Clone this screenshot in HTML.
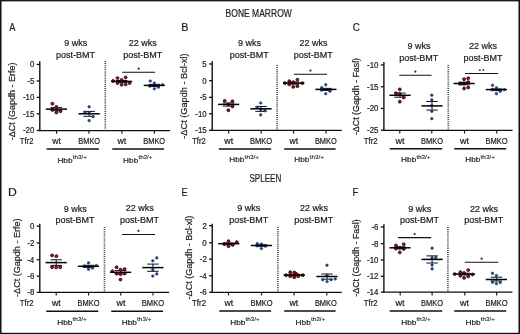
<!DOCTYPE html>
<html><head><meta charset="utf-8"><style>
html,body{margin:0;padding:0;background:#fff;}
svg{display:block;}
text{font-family:"Liberation Sans", sans-serif;stroke:#1c1c1c;stroke-width:0.2px;}
svg{will-change:transform;}
</style></head><body>
<svg width="520" height="334" viewBox="0 0 520 334">
<rect width="520" height="334" fill="#fff"/>
<text x="9.28" y="30.70" font-size="11.5" textLength="6.14" lengthAdjust="spacingAndGlyphs" fill="#1c1c1c" >A</text>
<line x1="39.80" y1="61.30" x2="39.80" y2="130.90" stroke="#111" stroke-width="1.4" />
<line x1="36.70" y1="64.45" x2="39.80" y2="64.45" stroke="#111" stroke-width="1.3" />
<text x="29.92" y="67.30" font-size="8.4" textLength="4.39" lengthAdjust="spacingAndGlyphs" fill="#1c1c1c" >0</text>
<line x1="36.70" y1="80.95" x2="39.80" y2="80.95" stroke="#111" stroke-width="1.3" />
<text x="27.31" y="83.80" font-size="8.4" textLength="7.02" lengthAdjust="spacingAndGlyphs" fill="#1c1c1c" >-5</text>
<line x1="36.70" y1="97.35" x2="39.80" y2="97.35" stroke="#111" stroke-width="1.3" />
<text x="22.90" y="100.20" font-size="8.4" textLength="11.41" lengthAdjust="spacingAndGlyphs" fill="#1c1c1c" >-10</text>
<line x1="36.70" y1="113.85" x2="39.80" y2="113.85" stroke="#111" stroke-width="1.3" />
<text x="22.92" y="116.70" font-size="8.4" textLength="11.41" lengthAdjust="spacingAndGlyphs" fill="#1c1c1c" >-15</text>
<line x1="36.70" y1="130.45" x2="39.80" y2="130.45" stroke="#111" stroke-width="1.3" />
<text x="22.90" y="133.30" font-size="8.4" textLength="11.41" lengthAdjust="spacingAndGlyphs" fill="#1c1c1c" >-20</text>
<line x1="39.10" y1="130.50" x2="170.20" y2="130.50" stroke="#111" stroke-width="1.25" />
<line x1="56.60" y1="130.30" x2="56.60" y2="133.70" stroke="#111" stroke-width="1.1" />
<line x1="88.90" y1="130.30" x2="88.90" y2="133.70" stroke="#111" stroke-width="1.1" />
<line x1="121.90" y1="130.30" x2="121.90" y2="133.70" stroke="#111" stroke-width="1.1" />
<line x1="154.40" y1="130.30" x2="154.40" y2="133.70" stroke="#111" stroke-width="1.1" />
<line x1="105.30" y1="61.00" x2="105.30" y2="130.30" stroke="#444" stroke-width="1.7" stroke-dasharray="1 1.08"/>
<text x="64.15" y="46.30" font-size="9" textLength="23.01" lengthAdjust="spacingAndGlyphs" fill="#1c1c1c" >9 wks</text>
<text x="56.01" y="57.80" font-size="9" textLength="39.01" lengthAdjust="spacingAndGlyphs" fill="#1c1c1c" >post-BMT</text>
<text x="128.83" y="46.20" font-size="9" textLength="28.01" lengthAdjust="spacingAndGlyphs" fill="#1c1c1c" >22 wks</text>
<text x="123.21" y="57.70" font-size="9" textLength="39.01" lengthAdjust="spacingAndGlyphs" fill="#1c1c1c" >post-BMT</text>
<line x1="122.10" y1="72.30" x2="155.20" y2="72.30" stroke="#111" stroke-width="1.05" />
<circle cx="138.65" cy="68.70" r="1.1" fill="#2a2a2a"/>
<line x1="56.40" y1="107.60" x2="56.40" y2="110.60" stroke="#111" stroke-width="1.0" />
<line x1="50.70" y1="107.60" x2="62.10" y2="107.60" stroke="#111" stroke-width="1.0" />
<line x1="50.70" y1="110.60" x2="62.10" y2="110.60" stroke="#111" stroke-width="1.0" />
<circle cx="52.40" cy="103.70" r="1.45" fill="#c8001a" stroke="#111" stroke-width="0.85"/>
<circle cx="56.40" cy="106.90" r="1.45" fill="#c8001a" stroke="#111" stroke-width="0.85"/>
<circle cx="52.40" cy="110.00" r="1.45" fill="#c8001a" stroke="#111" stroke-width="0.85"/>
<circle cx="56.40" cy="112.50" r="1.45" fill="#c8001a" stroke="#111" stroke-width="0.85"/>
<circle cx="60.50" cy="111.20" r="1.45" fill="#c8001a" stroke="#111" stroke-width="0.85"/>
<line x1="45.80" y1="109.10" x2="67.00" y2="109.10" stroke="#000" stroke-width="1.5" />
<line x1="89.10" y1="111.40" x2="89.10" y2="116.30" stroke="#111" stroke-width="1.0" />
<line x1="83.40" y1="111.40" x2="94.80" y2="111.40" stroke="#111" stroke-width="1.0" />
<line x1="83.40" y1="116.30" x2="94.80" y2="116.30" stroke="#111" stroke-width="1.0" />
<circle cx="89.10" cy="106.80" r="1.35" fill="#1d4591" stroke="#1a2a55" stroke-width="0.4"/>
<circle cx="84.90" cy="112.30" r="1.35" fill="#1d4591" stroke="#1a2a55" stroke-width="0.4"/>
<circle cx="89.10" cy="112.90" r="1.35" fill="#1d4591" stroke="#1a2a55" stroke-width="0.4"/>
<circle cx="93.00" cy="116.70" r="1.35" fill="#1d4591" stroke="#1a2a55" stroke-width="0.4"/>
<circle cx="89.10" cy="120.60" r="1.35" fill="#1d4591" stroke="#1a2a55" stroke-width="0.4"/>
<line x1="78.50" y1="113.80" x2="99.70" y2="113.80" stroke="#000" stroke-width="1.5" />
<line x1="121.60" y1="80.50" x2="121.60" y2="82.40" stroke="#111" stroke-width="1.0" />
<line x1="115.90" y1="80.50" x2="127.30" y2="80.50" stroke="#111" stroke-width="1.0" />
<line x1="115.90" y1="82.40" x2="127.30" y2="82.40" stroke="#111" stroke-width="1.0" />
<circle cx="113.10" cy="81.00" r="1.45" fill="#c8001a" stroke="#111" stroke-width="0.85"/>
<circle cx="117.50" cy="78.10" r="1.45" fill="#c8001a" stroke="#111" stroke-width="0.85"/>
<circle cx="117.50" cy="83.10" r="1.45" fill="#c8001a" stroke="#111" stroke-width="0.85"/>
<circle cx="121.60" cy="80.00" r="1.45" fill="#c8001a" stroke="#111" stroke-width="0.85"/>
<circle cx="121.60" cy="84.75" r="1.45" fill="#c8001a" stroke="#111" stroke-width="0.85"/>
<circle cx="125.60" cy="77.50" r="1.45" fill="#c8001a" stroke="#111" stroke-width="0.85"/>
<circle cx="125.60" cy="84.40" r="1.45" fill="#c8001a" stroke="#111" stroke-width="0.85"/>
<circle cx="129.60" cy="83.10" r="1.45" fill="#c8001a" stroke="#111" stroke-width="0.85"/>
<line x1="111.00" y1="81.40" x2="132.20" y2="81.40" stroke="#000" stroke-width="1.5" />
<line x1="154.30" y1="84.40" x2="154.30" y2="86.50" stroke="#111" stroke-width="1.0" />
<line x1="148.60" y1="84.40" x2="160.00" y2="84.40" stroke="#111" stroke-width="1.0" />
<line x1="148.60" y1="86.50" x2="160.00" y2="86.50" stroke="#111" stroke-width="1.0" />
<circle cx="150.25" cy="81.00" r="1.35" fill="#1d4591" stroke="#1a2a55" stroke-width="0.4"/>
<circle cx="154.40" cy="83.10" r="1.35" fill="#1d4591" stroke="#1a2a55" stroke-width="0.4"/>
<circle cx="150.00" cy="86.25" r="1.35" fill="#1d4591" stroke="#1a2a55" stroke-width="0.4"/>
<circle cx="154.40" cy="88.75" r="1.35" fill="#1d4591" stroke="#1a2a55" stroke-width="0.4"/>
<circle cx="158.40" cy="87.25" r="1.35" fill="#1d4591" stroke="#1a2a55" stroke-width="0.4"/>
<circle cx="162.50" cy="84.75" r="1.35" fill="#1d4591" stroke="#1a2a55" stroke-width="0.4"/>
<line x1="143.70" y1="85.40" x2="164.90" y2="85.40" stroke="#000" stroke-width="1.5" />
<text x="19.83" y="144.10" font-size="8.6" textLength="13.55" lengthAdjust="spacingAndGlyphs" fill="#1c1c1c" >Tfr2</text>
<text x="52.21" y="144.10" font-size="8.6" textLength="8.55" lengthAdjust="spacingAndGlyphs" fill="#1c1c1c" >wt</text>
<text x="117.41" y="144.10" font-size="8.6" textLength="8.75" lengthAdjust="spacingAndGlyphs" fill="#1c1c1c" >wt</text>
<text x="78.29" y="144.10" font-size="8.6" textLength="21.86" lengthAdjust="spacingAndGlyphs" fill="#1c1c1c" >BMKO</text>
<text x="143.19" y="144.10" font-size="8.6" textLength="21.97" lengthAdjust="spacingAndGlyphs" fill="#1c1c1c" >BMKO</text>
<line x1="46.60" y1="149.00" x2="98.90" y2="149.00" stroke="#111" stroke-width="1.5" />
<line x1="112.30" y1="149.00" x2="163.90" y2="149.00" stroke="#111" stroke-width="1.5" />
<text x="57.42" y="162.50" font-size="8.0" textLength="15.12" lengthAdjust="spacingAndGlyphs" fill="#1c1c1c" >Hbb</text>
<text x="72.70" y="158.90" font-size="5.6" textLength="14.31" lengthAdjust="spacingAndGlyphs" fill="#1c1c1c" style="stroke-width:0.1px">th3/+</text>
<text x="123.12" y="162.50" font-size="8.0" textLength="15.12" lengthAdjust="spacingAndGlyphs" fill="#1c1c1c" >Hbb</text>
<text x="138.41" y="158.90" font-size="5.6" textLength="14.10" lengthAdjust="spacingAndGlyphs" fill="#1c1c1c" style="stroke-width:0.1px">th3/+</text>
<text transform="translate(14.80,140.30) rotate(-90)" x="0" y="0" font-size="9" textLength="77.75" lengthAdjust="spacingAndGlyphs" fill="#1c1c1c">-ΔCt (Gapdh - Erfe)</text>
<text x="181.32" y="30.70" font-size="11.5" textLength="7.14" lengthAdjust="spacingAndGlyphs" fill="#1c1c1c" >B</text>
<line x1="212.20" y1="61.20" x2="212.20" y2="130.80" stroke="#111" stroke-width="1.4" />
<line x1="209.10" y1="63.95" x2="212.20" y2="63.95" stroke="#111" stroke-width="1.3" />
<text x="202.34" y="66.80" font-size="8.4" textLength="4.39" lengthAdjust="spacingAndGlyphs" fill="#1c1c1c" >5</text>
<line x1="209.10" y1="80.65" x2="212.20" y2="80.65" stroke="#111" stroke-width="1.3" />
<text x="202.32" y="83.50" font-size="8.4" textLength="4.39" lengthAdjust="spacingAndGlyphs" fill="#1c1c1c" >0</text>
<line x1="209.10" y1="97.35" x2="212.20" y2="97.35" stroke="#111" stroke-width="1.3" />
<text x="199.71" y="100.20" font-size="8.4" textLength="7.02" lengthAdjust="spacingAndGlyphs" fill="#1c1c1c" >-5</text>
<line x1="209.10" y1="113.75" x2="212.20" y2="113.75" stroke="#111" stroke-width="1.3" />
<text x="195.30" y="116.60" font-size="8.4" textLength="11.41" lengthAdjust="spacingAndGlyphs" fill="#1c1c1c" >-10</text>
<line x1="209.10" y1="130.35" x2="212.20" y2="130.35" stroke="#111" stroke-width="1.3" />
<text x="195.32" y="133.20" font-size="8.4" textLength="11.41" lengthAdjust="spacingAndGlyphs" fill="#1c1c1c" >-15</text>
<line x1="211.50" y1="130.40" x2="341.80" y2="130.40" stroke="#111" stroke-width="1.25" />
<line x1="228.60" y1="130.20" x2="228.60" y2="133.60" stroke="#111" stroke-width="1.1" />
<line x1="261.20" y1="130.20" x2="261.20" y2="133.60" stroke="#111" stroke-width="1.1" />
<line x1="293.50" y1="130.20" x2="293.50" y2="133.60" stroke="#111" stroke-width="1.1" />
<line x1="326.00" y1="130.20" x2="326.00" y2="133.60" stroke="#111" stroke-width="1.1" />
<line x1="277.10" y1="65.00" x2="277.10" y2="130.20" stroke="#444" stroke-width="1.7" stroke-dasharray="1 1.08"/>
<text x="237.95" y="46.40" font-size="9" textLength="23.01" lengthAdjust="spacingAndGlyphs" fill="#1c1c1c" >9 wks</text>
<text x="229.81" y="58.00" font-size="9" textLength="39.01" lengthAdjust="spacingAndGlyphs" fill="#1c1c1c" >post-BMT</text>
<text x="299.43" y="46.40" font-size="9" textLength="28.01" lengthAdjust="spacingAndGlyphs" fill="#1c1c1c" >22 wks</text>
<text x="293.81" y="58.00" font-size="9" textLength="39.01" lengthAdjust="spacingAndGlyphs" fill="#1c1c1c" >post-BMT</text>
<line x1="293.90" y1="74.20" x2="327.00" y2="74.20" stroke="#111" stroke-width="1.05" />
<circle cx="310.45" cy="70.60" r="1.1" fill="#2a2a2a"/>
<line x1="228.60" y1="103.00" x2="228.60" y2="106.10" stroke="#111" stroke-width="1.0" />
<line x1="222.90" y1="103.00" x2="234.30" y2="103.00" stroke="#111" stroke-width="1.0" />
<line x1="222.90" y1="106.10" x2="234.30" y2="106.10" stroke="#111" stroke-width="1.0" />
<circle cx="224.70" cy="100.90" r="1.45" fill="#c8001a" stroke="#111" stroke-width="0.85"/>
<circle cx="232.40" cy="101.30" r="1.45" fill="#c8001a" stroke="#111" stroke-width="0.85"/>
<circle cx="228.40" cy="104.40" r="1.45" fill="#c8001a" stroke="#111" stroke-width="0.85"/>
<circle cx="232.40" cy="106.50" r="1.45" fill="#c8001a" stroke="#111" stroke-width="0.85"/>
<circle cx="228.40" cy="110.30" r="1.45" fill="#c8001a" stroke="#111" stroke-width="0.85"/>
<line x1="218.00" y1="104.40" x2="239.20" y2="104.40" stroke="#000" stroke-width="1.5" />
<line x1="261.00" y1="106.50" x2="261.00" y2="111.40" stroke="#111" stroke-width="1.0" />
<line x1="255.30" y1="106.50" x2="266.70" y2="106.50" stroke="#111" stroke-width="1.0" />
<line x1="255.30" y1="111.40" x2="266.70" y2="111.40" stroke="#111" stroke-width="1.0" />
<circle cx="260.70" cy="103.00" r="1.35" fill="#1d4591" stroke="#1a2a55" stroke-width="0.4"/>
<circle cx="257.20" cy="107.20" r="1.35" fill="#1d4591" stroke="#1a2a55" stroke-width="0.4"/>
<circle cx="260.70" cy="109.30" r="1.35" fill="#1d4591" stroke="#1a2a55" stroke-width="0.4"/>
<circle cx="264.90" cy="110.70" r="1.35" fill="#1d4591" stroke="#1a2a55" stroke-width="0.4"/>
<circle cx="260.70" cy="114.90" r="1.35" fill="#1d4591" stroke="#1a2a55" stroke-width="0.4"/>
<line x1="250.40" y1="108.80" x2="271.60" y2="108.80" stroke="#000" stroke-width="1.5" />
<line x1="293.60" y1="82.00" x2="293.60" y2="84.20" stroke="#111" stroke-width="1.0" />
<line x1="287.90" y1="82.00" x2="299.30" y2="82.00" stroke="#111" stroke-width="1.0" />
<line x1="287.90" y1="84.20" x2="299.30" y2="84.20" stroke="#111" stroke-width="1.0" />
<circle cx="284.90" cy="83.10" r="1.45" fill="#c8001a" stroke="#111" stroke-width="0.85"/>
<circle cx="289.25" cy="81.25" r="1.45" fill="#c8001a" stroke="#111" stroke-width="0.85"/>
<circle cx="289.25" cy="84.40" r="1.45" fill="#c8001a" stroke="#111" stroke-width="0.85"/>
<circle cx="293.25" cy="82.25" r="1.45" fill="#c8001a" stroke="#111" stroke-width="0.85"/>
<circle cx="293.25" cy="86.90" r="1.45" fill="#c8001a" stroke="#111" stroke-width="0.85"/>
<circle cx="297.40" cy="79.75" r="1.45" fill="#c8001a" stroke="#111" stroke-width="0.85"/>
<circle cx="297.40" cy="86.25" r="1.45" fill="#c8001a" stroke="#111" stroke-width="0.85"/>
<circle cx="302.40" cy="83.10" r="1.45" fill="#c8001a" stroke="#111" stroke-width="0.85"/>
<line x1="283.00" y1="83.10" x2="304.20" y2="83.10" stroke="#000" stroke-width="1.5" />
<line x1="325.90" y1="88.40" x2="325.90" y2="90.40" stroke="#111" stroke-width="1.0" />
<line x1="320.20" y1="88.40" x2="331.60" y2="88.40" stroke="#111" stroke-width="1.0" />
<line x1="320.20" y1="90.40" x2="331.60" y2="90.40" stroke="#111" stroke-width="1.0" />
<circle cx="325.75" cy="84.75" r="1.35" fill="#1d4591" stroke="#1a2a55" stroke-width="0.4"/>
<circle cx="321.75" cy="87.60" r="1.35" fill="#1d4591" stroke="#1a2a55" stroke-width="0.4"/>
<circle cx="325.75" cy="89.40" r="1.35" fill="#1d4591" stroke="#1a2a55" stroke-width="0.4"/>
<circle cx="329.90" cy="91.25" r="1.35" fill="#1d4591" stroke="#1a2a55" stroke-width="0.4"/>
<circle cx="325.75" cy="93.75" r="1.35" fill="#1d4591" stroke="#1a2a55" stroke-width="0.4"/>
<circle cx="321.75" cy="90.20" r="1.35" fill="#1d4591" stroke="#1a2a55" stroke-width="0.4"/>
<line x1="315.30" y1="89.40" x2="336.50" y2="89.40" stroke="#000" stroke-width="1.5" />
<text x="192.23" y="144.00" font-size="8.6" textLength="13.45" lengthAdjust="spacingAndGlyphs" fill="#1c1c1c" >Tfr2</text>
<text x="224.31" y="144.00" font-size="8.6" textLength="8.85" lengthAdjust="spacingAndGlyphs" fill="#1c1c1c" >wt</text>
<text x="289.51" y="144.00" font-size="8.6" textLength="8.65" lengthAdjust="spacingAndGlyphs" fill="#1c1c1c" >wt</text>
<text x="249.98" y="144.00" font-size="8.6" textLength="22.28" lengthAdjust="spacingAndGlyphs" fill="#1c1c1c" >BMKO</text>
<text x="314.89" y="144.00" font-size="8.6" textLength="21.86" lengthAdjust="spacingAndGlyphs" fill="#1c1c1c" >BMKO</text>
<line x1="218.90" y1="148.90" x2="271.10" y2="148.90" stroke="#111" stroke-width="1.5" />
<line x1="284.20" y1="148.90" x2="335.60" y2="148.90" stroke="#111" stroke-width="1.5" />
<text x="229.32" y="162.40" font-size="8.0" textLength="15.12" lengthAdjust="spacingAndGlyphs" fill="#1c1c1c" >Hbb</text>
<text x="244.60" y="158.80" font-size="5.6" textLength="14.52" lengthAdjust="spacingAndGlyphs" fill="#1c1c1c" style="stroke-width:0.1px">th3/+</text>
<text x="294.32" y="162.40" font-size="8.0" textLength="15.12" lengthAdjust="spacingAndGlyphs" fill="#1c1c1c" >Hbb</text>
<text x="309.60" y="158.80" font-size="5.6" textLength="14.52" lengthAdjust="spacingAndGlyphs" fill="#1c1c1c" style="stroke-width:0.1px">th3/+</text>
<text transform="translate(187.40,138.71) rotate(-90)" x="0" y="0" font-size="9" textLength="85.38" lengthAdjust="spacingAndGlyphs" fill="#1c1c1c">-ΔCt (Gapdh - Bcl-xl)</text>
<text x="352.80" y="30.70" font-size="11.5" textLength="7.07" lengthAdjust="spacingAndGlyphs" fill="#1c1c1c" >C</text>
<line x1="383.90" y1="62.00" x2="383.90" y2="130.70" stroke="#111" stroke-width="1.4" />
<line x1="380.80" y1="64.95" x2="383.90" y2="64.95" stroke="#111" stroke-width="1.3" />
<text x="367.00" y="67.80" font-size="8.4" textLength="11.41" lengthAdjust="spacingAndGlyphs" fill="#1c1c1c" >-10</text>
<line x1="380.80" y1="86.75" x2="383.90" y2="86.75" stroke="#111" stroke-width="1.3" />
<text x="367.02" y="89.60" font-size="8.4" textLength="11.41" lengthAdjust="spacingAndGlyphs" fill="#1c1c1c" >-15</text>
<line x1="380.80" y1="108.45" x2="383.90" y2="108.45" stroke="#111" stroke-width="1.3" />
<text x="367.00" y="111.30" font-size="8.4" textLength="11.41" lengthAdjust="spacingAndGlyphs" fill="#1c1c1c" >-20</text>
<line x1="380.80" y1="130.15" x2="383.90" y2="130.15" stroke="#111" stroke-width="1.3" />
<text x="367.02" y="133.00" font-size="8.4" textLength="11.41" lengthAdjust="spacingAndGlyphs" fill="#1c1c1c" >-25</text>
<line x1="383.20" y1="130.30" x2="512.60" y2="130.30" stroke="#111" stroke-width="1.25" />
<line x1="399.80" y1="130.10" x2="399.80" y2="133.50" stroke="#111" stroke-width="1.1" />
<line x1="431.80" y1="130.10" x2="431.80" y2="133.50" stroke="#111" stroke-width="1.1" />
<line x1="464.50" y1="130.10" x2="464.50" y2="133.50" stroke="#111" stroke-width="1.1" />
<line x1="496.70" y1="130.10" x2="496.70" y2="133.50" stroke="#111" stroke-width="1.1" />
<line x1="448.30" y1="65.00" x2="448.30" y2="130.10" stroke="#444" stroke-width="1.7" stroke-dasharray="1 1.08"/>
<text x="407.45" y="48.90" font-size="9" textLength="23.01" lengthAdjust="spacingAndGlyphs" fill="#1c1c1c" >9 wks</text>
<text x="399.31" y="60.50" font-size="9" textLength="39.01" lengthAdjust="spacingAndGlyphs" fill="#1c1c1c" >post-BMT</text>
<text x="469.03" y="48.90" font-size="9" textLength="28.01" lengthAdjust="spacingAndGlyphs" fill="#1c1c1c" >22 wks</text>
<text x="463.41" y="60.50" font-size="9" textLength="39.01" lengthAdjust="spacingAndGlyphs" fill="#1c1c1c" >post-BMT</text>
<line x1="399.20" y1="75.20" x2="431.50" y2="75.20" stroke="#111" stroke-width="1.05" />
<circle cx="415.35" cy="71.60" r="1.1" fill="#2a2a2a"/>
<line x1="465.10" y1="73.50" x2="498.00" y2="73.50" stroke="#111" stroke-width="1.05" />
<circle cx="479.85" cy="70.10" r="0.95" fill="#222"/>
<circle cx="483.25" cy="70.10" r="0.95" fill="#222"/>
<line x1="400.00" y1="93.10" x2="400.00" y2="97.20" stroke="#111" stroke-width="1.0" />
<line x1="394.30" y1="93.10" x2="405.70" y2="93.10" stroke="#111" stroke-width="1.0" />
<line x1="394.30" y1="97.20" x2="405.70" y2="97.20" stroke="#111" stroke-width="1.0" />
<circle cx="399.80" cy="89.40" r="1.45" fill="#c8001a" stroke="#111" stroke-width="0.85"/>
<circle cx="396.00" cy="93.30" r="1.45" fill="#c8001a" stroke="#111" stroke-width="0.85"/>
<circle cx="399.80" cy="94.00" r="1.45" fill="#c8001a" stroke="#111" stroke-width="0.85"/>
<circle cx="403.70" cy="97.50" r="1.45" fill="#c8001a" stroke="#111" stroke-width="0.85"/>
<circle cx="399.80" cy="101.70" r="1.45" fill="#c8001a" stroke="#111" stroke-width="0.85"/>
<line x1="389.40" y1="95.30" x2="410.60" y2="95.30" stroke="#000" stroke-width="1.5" />
<line x1="432.00" y1="101.50" x2="432.00" y2="110.10" stroke="#111" stroke-width="1.0" />
<line x1="426.30" y1="101.50" x2="437.70" y2="101.50" stroke="#111" stroke-width="1.0" />
<line x1="426.30" y1="110.10" x2="437.70" y2="110.10" stroke="#111" stroke-width="1.0" />
<circle cx="431.80" cy="95.20" r="1.35" fill="#1d4591" stroke="#1a2a55" stroke-width="0.4"/>
<circle cx="431.80" cy="99.80" r="1.35" fill="#1d4591" stroke="#1a2a55" stroke-width="0.4"/>
<circle cx="431.80" cy="105.50" r="1.35" fill="#1d4591" stroke="#1a2a55" stroke-width="0.4"/>
<circle cx="431.80" cy="111.30" r="1.35" fill="#1d4591" stroke="#1a2a55" stroke-width="0.4"/>
<circle cx="431.80" cy="118.70" r="1.35" fill="#1d4591" stroke="#1a2a55" stroke-width="0.4"/>
<line x1="421.40" y1="105.90" x2="442.60" y2="105.90" stroke="#000" stroke-width="1.5" />
<line x1="464.10" y1="82.20" x2="464.10" y2="84.80" stroke="#111" stroke-width="1.0" />
<line x1="458.40" y1="82.20" x2="469.80" y2="82.20" stroke="#111" stroke-width="1.0" />
<line x1="458.40" y1="84.80" x2="469.80" y2="84.80" stroke="#111" stroke-width="1.0" />
<circle cx="464.10" cy="79.20" r="1.45" fill="#c8001a" stroke="#111" stroke-width="0.85"/>
<circle cx="468.20" cy="78.30" r="1.45" fill="#c8001a" stroke="#111" stroke-width="0.85"/>
<circle cx="468.20" cy="82.10" r="1.45" fill="#c8001a" stroke="#111" stroke-width="0.85"/>
<circle cx="460.20" cy="83.60" r="1.45" fill="#c8001a" stroke="#111" stroke-width="0.85"/>
<circle cx="464.10" cy="83.60" r="1.45" fill="#c8001a" stroke="#111" stroke-width="0.85"/>
<circle cx="464.10" cy="88.50" r="1.45" fill="#c8001a" stroke="#111" stroke-width="0.85"/>
<circle cx="468.20" cy="87.50" r="1.45" fill="#c8001a" stroke="#111" stroke-width="0.85"/>
<line x1="453.50" y1="83.50" x2="474.70" y2="83.50" stroke="#000" stroke-width="1.5" />
<line x1="496.40" y1="88.90" x2="496.40" y2="90.60" stroke="#111" stroke-width="1.0" />
<line x1="490.70" y1="88.90" x2="502.10" y2="88.90" stroke="#111" stroke-width="1.0" />
<line x1="490.70" y1="90.60" x2="502.10" y2="90.60" stroke="#111" stroke-width="1.0" />
<circle cx="492.50" cy="85.30" r="1.35" fill="#1d4591" stroke="#1a2a55" stroke-width="0.4"/>
<circle cx="496.40" cy="87.90" r="1.35" fill="#1d4591" stroke="#1a2a55" stroke-width="0.4"/>
<circle cx="500.20" cy="91.30" r="1.35" fill="#1d4591" stroke="#1a2a55" stroke-width="0.4"/>
<circle cx="496.40" cy="93.70" r="1.35" fill="#1d4591" stroke="#1a2a55" stroke-width="0.4"/>
<circle cx="504.20" cy="89.60" r="1.35" fill="#1d4591" stroke="#1a2a55" stroke-width="0.4"/>
<circle cx="492.50" cy="89.60" r="1.35" fill="#1d4591" stroke="#1a2a55" stroke-width="0.4"/>
<line x1="485.80" y1="89.60" x2="507.00" y2="89.60" stroke="#000" stroke-width="1.5" />
<text x="363.72" y="143.90" font-size="8.6" textLength="13.87" lengthAdjust="spacingAndGlyphs" fill="#1c1c1c" >Tfr2</text>
<text x="395.51" y="143.90" font-size="8.6" textLength="9.05" lengthAdjust="spacingAndGlyphs" fill="#1c1c1c" >wt</text>
<text x="460.01" y="143.90" font-size="8.6" textLength="9.05" lengthAdjust="spacingAndGlyphs" fill="#1c1c1c" >wt</text>
<text x="420.99" y="143.90" font-size="8.6" textLength="21.97" lengthAdjust="spacingAndGlyphs" fill="#1c1c1c" >BMKO</text>
<text x="485.48" y="143.90" font-size="8.6" textLength="22.28" lengthAdjust="spacingAndGlyphs" fill="#1c1c1c" >BMKO</text>
<line x1="389.70" y1="148.80" x2="442.20" y2="148.80" stroke="#111" stroke-width="1.5" />
<line x1="454.20" y1="148.80" x2="506.20" y2="148.80" stroke="#111" stroke-width="1.5" />
<text x="401.12" y="162.30" font-size="8.0" textLength="15.12" lengthAdjust="spacingAndGlyphs" fill="#1c1c1c" >Hbb</text>
<text x="416.41" y="158.70" font-size="5.6" textLength="14.10" lengthAdjust="spacingAndGlyphs" fill="#1c1c1c" style="stroke-width:0.1px">th3/+</text>
<text x="465.32" y="162.30" font-size="8.0" textLength="15.12" lengthAdjust="spacingAndGlyphs" fill="#1c1c1c" >Hbb</text>
<text x="480.60" y="158.70" font-size="5.6" textLength="14.41" lengthAdjust="spacingAndGlyphs" fill="#1c1c1c" style="stroke-width:0.1px">th3/+</text>
<text transform="translate(359.20,135.09) rotate(-90)" x="0" y="0" font-size="9" textLength="77.14" lengthAdjust="spacingAndGlyphs" fill="#1c1c1c">-ΔCt (Gapdh - Fasl)</text>
<text x="8.00" y="196.20" font-size="11.5" textLength="8.78" lengthAdjust="spacingAndGlyphs" fill="#1c1c1c" >D</text>
<line x1="39.80" y1="223.80" x2="39.80" y2="292.80" stroke="#111" stroke-width="1.4" />
<line x1="36.70" y1="226.15" x2="39.80" y2="226.15" stroke="#111" stroke-width="1.3" />
<text x="29.92" y="229.00" font-size="8.4" textLength="4.39" lengthAdjust="spacingAndGlyphs" fill="#1c1c1c" >0</text>
<line x1="36.70" y1="242.95" x2="39.80" y2="242.95" stroke="#111" stroke-width="1.3" />
<text x="27.38" y="245.80" font-size="8.4" textLength="7.02" lengthAdjust="spacingAndGlyphs" fill="#1c1c1c" >-2</text>
<line x1="36.70" y1="259.75" x2="39.80" y2="259.75" stroke="#111" stroke-width="1.3" />
<text x="27.21" y="262.60" font-size="8.4" textLength="7.02" lengthAdjust="spacingAndGlyphs" fill="#1c1c1c" >-4</text>
<line x1="36.70" y1="276.15" x2="39.80" y2="276.15" stroke="#111" stroke-width="1.3" />
<text x="27.33" y="279.00" font-size="8.4" textLength="7.02" lengthAdjust="spacingAndGlyphs" fill="#1c1c1c" >-6</text>
<line x1="36.70" y1="292.35" x2="39.80" y2="292.35" stroke="#111" stroke-width="1.3" />
<text x="27.32" y="295.20" font-size="8.4" textLength="7.02" lengthAdjust="spacingAndGlyphs" fill="#1c1c1c" >-8</text>
<line x1="39.10" y1="292.40" x2="169.20" y2="292.40" stroke="#111" stroke-width="1.25" />
<line x1="56.20" y1="292.20" x2="56.20" y2="295.60" stroke="#111" stroke-width="1.1" />
<line x1="88.60" y1="292.20" x2="88.60" y2="295.60" stroke="#111" stroke-width="1.1" />
<line x1="120.70" y1="292.20" x2="120.70" y2="295.60" stroke="#111" stroke-width="1.1" />
<line x1="153.00" y1="292.20" x2="153.00" y2="295.60" stroke="#111" stroke-width="1.1" />
<line x1="104.50" y1="227.00" x2="104.50" y2="292.20" stroke="#444" stroke-width="1.7" stroke-dasharray="1 1.08"/>
<text x="63.75" y="211.50" font-size="9" textLength="23.01" lengthAdjust="spacingAndGlyphs" fill="#1c1c1c" >9 wks</text>
<text x="55.61" y="222.90" font-size="9" textLength="39.01" lengthAdjust="spacingAndGlyphs" fill="#1c1c1c" >post-BMT</text>
<text x="125.73" y="211.40" font-size="9" textLength="28.01" lengthAdjust="spacingAndGlyphs" fill="#1c1c1c" >22 wks</text>
<text x="120.11" y="222.80" font-size="9" textLength="39.01" lengthAdjust="spacingAndGlyphs" fill="#1c1c1c" >post-BMT</text>
<line x1="122.00" y1="234.40" x2="155.00" y2="234.40" stroke="#111" stroke-width="1.05" />
<circle cx="138.50" cy="230.80" r="1.1" fill="#2a2a2a"/>
<line x1="56.20" y1="259.80" x2="56.20" y2="265.40" stroke="#111" stroke-width="1.0" />
<line x1="50.50" y1="259.80" x2="61.90" y2="259.80" stroke="#111" stroke-width="1.0" />
<line x1="50.50" y1="265.40" x2="61.90" y2="265.40" stroke="#111" stroke-width="1.0" />
<circle cx="52.10" cy="255.40" r="1.45" fill="#c8001a" stroke="#111" stroke-width="0.85"/>
<circle cx="56.40" cy="256.20" r="1.45" fill="#c8001a" stroke="#111" stroke-width="0.85"/>
<circle cx="52.10" cy="267.20" r="1.45" fill="#c8001a" stroke="#111" stroke-width="0.85"/>
<circle cx="56.20" cy="267.50" r="1.45" fill="#c8001a" stroke="#111" stroke-width="0.85"/>
<circle cx="60.20" cy="267.20" r="1.45" fill="#c8001a" stroke="#111" stroke-width="0.85"/>
<line x1="45.60" y1="262.60" x2="66.80" y2="262.60" stroke="#000" stroke-width="1.5" />
<line x1="88.50" y1="265.30" x2="88.50" y2="267.40" stroke="#111" stroke-width="1.0" />
<line x1="82.80" y1="265.30" x2="94.20" y2="265.30" stroke="#111" stroke-width="1.0" />
<line x1="82.80" y1="267.40" x2="94.20" y2="267.40" stroke="#111" stroke-width="1.0" />
<circle cx="88.50" cy="262.90" r="1.35" fill="#1d4591" stroke="#1a2a55" stroke-width="0.4"/>
<circle cx="84.40" cy="266.10" r="1.35" fill="#1d4591" stroke="#1a2a55" stroke-width="0.4"/>
<circle cx="88.50" cy="269.20" r="1.35" fill="#1d4591" stroke="#1a2a55" stroke-width="0.4"/>
<circle cx="92.50" cy="268.10" r="1.35" fill="#1d4591" stroke="#1a2a55" stroke-width="0.4"/>
<circle cx="96.30" cy="265.50" r="1.35" fill="#1d4591" stroke="#1a2a55" stroke-width="0.4"/>
<line x1="77.90" y1="266.30" x2="99.10" y2="266.30" stroke="#000" stroke-width="1.5" />
<line x1="120.60" y1="270.60" x2="120.60" y2="274.00" stroke="#111" stroke-width="1.0" />
<line x1="114.90" y1="270.60" x2="126.30" y2="270.60" stroke="#111" stroke-width="1.0" />
<line x1="114.90" y1="274.00" x2="126.30" y2="274.00" stroke="#111" stroke-width="1.0" />
<circle cx="112.50" cy="271.20" r="1.45" fill="#c8001a" stroke="#111" stroke-width="0.85"/>
<circle cx="116.60" cy="267.30" r="1.45" fill="#c8001a" stroke="#111" stroke-width="0.85"/>
<circle cx="120.50" cy="269.70" r="1.45" fill="#c8001a" stroke="#111" stroke-width="0.85"/>
<circle cx="124.60" cy="269.10" r="1.45" fill="#c8001a" stroke="#111" stroke-width="0.85"/>
<circle cx="116.60" cy="273.70" r="1.45" fill="#c8001a" stroke="#111" stroke-width="0.85"/>
<circle cx="120.50" cy="274.20" r="1.45" fill="#c8001a" stroke="#111" stroke-width="0.85"/>
<circle cx="124.60" cy="273.50" r="1.45" fill="#c8001a" stroke="#111" stroke-width="0.85"/>
<circle cx="120.50" cy="279.60" r="1.45" fill="#c8001a" stroke="#111" stroke-width="0.85"/>
<line x1="110.00" y1="272.30" x2="131.20" y2="272.30" stroke="#000" stroke-width="1.5" />
<line x1="152.90" y1="264.10" x2="152.90" y2="271.30" stroke="#111" stroke-width="1.0" />
<line x1="147.20" y1="264.10" x2="158.60" y2="264.10" stroke="#111" stroke-width="1.0" />
<line x1="147.20" y1="271.30" x2="158.60" y2="271.30" stroke="#111" stroke-width="1.0" />
<circle cx="156.80" cy="257.90" r="1.35" fill="#1d4591" stroke="#1a2a55" stroke-width="0.4"/>
<circle cx="152.80" cy="260.80" r="1.35" fill="#1d4591" stroke="#1a2a55" stroke-width="0.4"/>
<circle cx="152.80" cy="269.70" r="1.35" fill="#1d4591" stroke="#1a2a55" stroke-width="0.4"/>
<circle cx="156.80" cy="273.90" r="1.35" fill="#1d4591" stroke="#1a2a55" stroke-width="0.4"/>
<circle cx="152.80" cy="276.00" r="1.35" fill="#1d4591" stroke="#1a2a55" stroke-width="0.4"/>
<line x1="142.30" y1="267.60" x2="163.50" y2="267.60" stroke="#000" stroke-width="1.5" />
<text x="19.72" y="306.00" font-size="8.6" textLength="13.87" lengthAdjust="spacingAndGlyphs" fill="#1c1c1c" >Tfr2</text>
<text x="51.91" y="306.00" font-size="8.6" textLength="8.95" lengthAdjust="spacingAndGlyphs" fill="#1c1c1c" >wt</text>
<text x="116.41" y="306.00" font-size="8.6" textLength="9.05" lengthAdjust="spacingAndGlyphs" fill="#1c1c1c" >wt</text>
<text x="77.59" y="306.00" font-size="8.6" textLength="21.97" lengthAdjust="spacingAndGlyphs" fill="#1c1c1c" >BMKO</text>
<text x="141.78" y="306.00" font-size="8.6" textLength="22.39" lengthAdjust="spacingAndGlyphs" fill="#1c1c1c" >BMKO</text>
<line x1="46.30" y1="311.20" x2="98.30" y2="311.20" stroke="#111" stroke-width="1.5" />
<line x1="111.20" y1="311.20" x2="163.10" y2="311.20" stroke="#111" stroke-width="1.5" />
<text x="57.22" y="324.70" font-size="8.0" textLength="15.12" lengthAdjust="spacingAndGlyphs" fill="#1c1c1c" >Hbb</text>
<text x="72.50" y="321.10" font-size="5.6" textLength="14.31" lengthAdjust="spacingAndGlyphs" fill="#1c1c1c" style="stroke-width:0.1px">th3/+</text>
<text x="121.82" y="324.70" font-size="8.0" textLength="15.12" lengthAdjust="spacingAndGlyphs" fill="#1c1c1c" >Hbb</text>
<text x="137.10" y="321.10" font-size="5.6" textLength="14.41" lengthAdjust="spacingAndGlyphs" fill="#1c1c1c" style="stroke-width:0.1px">th3/+</text>
<text transform="translate(19.80,296.90) rotate(-90)" x="0" y="0" font-size="9" textLength="78.46" lengthAdjust="spacingAndGlyphs" fill="#1c1c1c">-ΔCt (Gapdh - Erfe)</text>
<text x="181.44" y="196.20" font-size="11.5" textLength="6.15" lengthAdjust="spacingAndGlyphs" fill="#1c1c1c" >E</text>
<line x1="212.20" y1="223.80" x2="212.20" y2="292.70" stroke="#111" stroke-width="1.4" />
<line x1="209.10" y1="225.65" x2="212.20" y2="225.65" stroke="#111" stroke-width="1.3" />
<text x="202.41" y="228.50" font-size="8.4" textLength="4.39" lengthAdjust="spacingAndGlyphs" fill="#1c1c1c" >2</text>
<line x1="209.10" y1="242.75" x2="212.20" y2="242.75" stroke="#111" stroke-width="1.3" />
<text x="202.32" y="245.60" font-size="8.4" textLength="4.39" lengthAdjust="spacingAndGlyphs" fill="#1c1c1c" >0</text>
<line x1="209.10" y1="259.15" x2="212.20" y2="259.15" stroke="#111" stroke-width="1.3" />
<text x="199.78" y="262.00" font-size="8.4" textLength="7.02" lengthAdjust="spacingAndGlyphs" fill="#1c1c1c" >-2</text>
<line x1="209.10" y1="275.75" x2="212.20" y2="275.75" stroke="#111" stroke-width="1.3" />
<text x="199.61" y="278.60" font-size="8.4" textLength="7.02" lengthAdjust="spacingAndGlyphs" fill="#1c1c1c" >-4</text>
<line x1="209.10" y1="292.25" x2="212.20" y2="292.25" stroke="#111" stroke-width="1.3" />
<text x="199.73" y="295.10" font-size="8.4" textLength="7.02" lengthAdjust="spacingAndGlyphs" fill="#1c1c1c" >-6</text>
<line x1="211.50" y1="292.30" x2="341.80" y2="292.30" stroke="#111" stroke-width="1.25" />
<line x1="228.50" y1="292.10" x2="228.50" y2="295.50" stroke="#111" stroke-width="1.1" />
<line x1="261.50" y1="292.10" x2="261.50" y2="295.50" stroke="#111" stroke-width="1.1" />
<line x1="294.10" y1="292.10" x2="294.10" y2="295.50" stroke="#111" stroke-width="1.1" />
<line x1="326.80" y1="292.10" x2="326.80" y2="295.50" stroke="#111" stroke-width="1.1" />
<line x1="277.90" y1="227.00" x2="277.90" y2="292.10" stroke="#444" stroke-width="1.7" stroke-dasharray="1 1.08"/>
<text x="237.35" y="211.00" font-size="9" textLength="23.01" lengthAdjust="spacingAndGlyphs" fill="#1c1c1c" >9 wks</text>
<text x="229.21" y="222.70" font-size="9" textLength="39.01" lengthAdjust="spacingAndGlyphs" fill="#1c1c1c" >post-BMT</text>
<text x="299.93" y="211.20" font-size="9" textLength="28.01" lengthAdjust="spacingAndGlyphs" fill="#1c1c1c" >22 wks</text>
<text x="294.31" y="222.70" font-size="9" textLength="39.01" lengthAdjust="spacingAndGlyphs" fill="#1c1c1c" >post-BMT</text>
<line x1="228.80" y1="242.90" x2="228.80" y2="244.60" stroke="#111" stroke-width="1.0" />
<line x1="223.10" y1="242.90" x2="234.50" y2="242.90" stroke="#111" stroke-width="1.0" />
<line x1="223.10" y1="244.60" x2="234.50" y2="244.60" stroke="#111" stroke-width="1.0" />
<circle cx="224.40" cy="244.20" r="1.45" fill="#c8001a" stroke="#111" stroke-width="0.85"/>
<circle cx="228.50" cy="241.20" r="1.45" fill="#c8001a" stroke="#111" stroke-width="0.85"/>
<circle cx="228.50" cy="246.20" r="1.45" fill="#c8001a" stroke="#111" stroke-width="0.85"/>
<circle cx="232.70" cy="245.00" r="1.45" fill="#c8001a" stroke="#111" stroke-width="0.85"/>
<circle cx="236.80" cy="242.10" r="1.45" fill="#c8001a" stroke="#111" stroke-width="0.85"/>
<line x1="218.20" y1="243.70" x2="239.40" y2="243.70" stroke="#000" stroke-width="1.5" />
<line x1="261.40" y1="244.70" x2="261.40" y2="246.30" stroke="#111" stroke-width="1.0" />
<line x1="255.70" y1="244.70" x2="267.10" y2="244.70" stroke="#111" stroke-width="1.0" />
<line x1="255.70" y1="246.30" x2="267.10" y2="246.30" stroke="#111" stroke-width="1.0" />
<circle cx="257.30" cy="243.70" r="1.35" fill="#1d4591" stroke="#1a2a55" stroke-width="0.4"/>
<circle cx="261.40" cy="244.10" r="1.35" fill="#1d4591" stroke="#1a2a55" stroke-width="0.4"/>
<circle cx="261.40" cy="248.50" r="1.35" fill="#1d4591" stroke="#1a2a55" stroke-width="0.4"/>
<circle cx="265.40" cy="246.20" r="1.35" fill="#1d4591" stroke="#1a2a55" stroke-width="0.4"/>
<circle cx="257.30" cy="245.80" r="1.35" fill="#1d4591" stroke="#1a2a55" stroke-width="0.4"/>
<line x1="250.80" y1="245.50" x2="272.00" y2="245.50" stroke="#000" stroke-width="1.5" />
<line x1="294.20" y1="274.20" x2="294.20" y2="275.80" stroke="#111" stroke-width="1.0" />
<line x1="288.50" y1="274.20" x2="299.90" y2="274.20" stroke="#111" stroke-width="1.0" />
<line x1="288.50" y1="275.80" x2="299.90" y2="275.80" stroke="#111" stroke-width="1.0" />
<circle cx="286.10" cy="275.25" r="1.45" fill="#c8001a" stroke="#111" stroke-width="0.85"/>
<circle cx="290.25" cy="272.25" r="1.45" fill="#c8001a" stroke="#111" stroke-width="0.85"/>
<circle cx="290.25" cy="276.25" r="1.45" fill="#c8001a" stroke="#111" stroke-width="0.85"/>
<circle cx="294.25" cy="272.50" r="1.45" fill="#c8001a" stroke="#111" stroke-width="0.85"/>
<circle cx="294.25" cy="277.25" r="1.45" fill="#c8001a" stroke="#111" stroke-width="0.85"/>
<circle cx="296.10" cy="273.75" r="1.45" fill="#c8001a" stroke="#111" stroke-width="0.85"/>
<circle cx="298.25" cy="276.25" r="1.45" fill="#c8001a" stroke="#111" stroke-width="0.85"/>
<circle cx="302.75" cy="275.25" r="1.45" fill="#c8001a" stroke="#111" stroke-width="0.85"/>
<line x1="283.60" y1="275.00" x2="304.80" y2="275.00" stroke="#000" stroke-width="1.5" />
<line x1="327.00" y1="274.00" x2="327.00" y2="279.20" stroke="#111" stroke-width="1.0" />
<line x1="321.30" y1="274.00" x2="332.70" y2="274.00" stroke="#111" stroke-width="1.0" />
<line x1="321.30" y1="279.20" x2="332.70" y2="279.20" stroke="#111" stroke-width="1.0" />
<circle cx="327.00" cy="265.25" r="1.35" fill="#1d4591" stroke="#1a2a55" stroke-width="0.4"/>
<circle cx="327.00" cy="275.25" r="1.35" fill="#1d4591" stroke="#1a2a55" stroke-width="0.4"/>
<circle cx="322.75" cy="279.75" r="1.35" fill="#1d4591" stroke="#1a2a55" stroke-width="0.4"/>
<circle cx="327.00" cy="281.50" r="1.35" fill="#1d4591" stroke="#1a2a55" stroke-width="0.4"/>
<circle cx="331.10" cy="279.75" r="1.35" fill="#1d4591" stroke="#1a2a55" stroke-width="0.4"/>
<circle cx="335.25" cy="279.00" r="1.35" fill="#1d4591" stroke="#1a2a55" stroke-width="0.4"/>
<line x1="316.40" y1="276.50" x2="337.60" y2="276.50" stroke="#000" stroke-width="1.5" />
<text x="192.12" y="305.90" font-size="8.6" textLength="13.87" lengthAdjust="spacingAndGlyphs" fill="#1c1c1c" >Tfr2</text>
<text x="224.51" y="305.90" font-size="8.6" textLength="8.75" lengthAdjust="spacingAndGlyphs" fill="#1c1c1c" >wt</text>
<text x="289.41" y="305.90" font-size="8.6" textLength="8.75" lengthAdjust="spacingAndGlyphs" fill="#1c1c1c" >wt</text>
<text x="250.49" y="305.90" font-size="8.6" textLength="22.07" lengthAdjust="spacingAndGlyphs" fill="#1c1c1c" >BMKO</text>
<text x="314.89" y="305.90" font-size="8.6" textLength="21.97" lengthAdjust="spacingAndGlyphs" fill="#1c1c1c" >BMKO</text>
<line x1="219.30" y1="311.10" x2="271.10" y2="311.10" stroke="#111" stroke-width="1.5" />
<line x1="284.20" y1="311.10" x2="335.60" y2="311.10" stroke="#111" stroke-width="1.5" />
<text x="230.32" y="324.60" font-size="8.0" textLength="15.12" lengthAdjust="spacingAndGlyphs" fill="#1c1c1c" >Hbb</text>
<text x="245.60" y="321.00" font-size="5.6" textLength="14.21" lengthAdjust="spacingAndGlyphs" fill="#1c1c1c" style="stroke-width:0.1px">th3/+</text>
<text x="295.62" y="324.60" font-size="8.0" textLength="15.12" lengthAdjust="spacingAndGlyphs" fill="#1c1c1c" >Hbb</text>
<text x="310.90" y="321.00" font-size="5.6" textLength="14.41" lengthAdjust="spacingAndGlyphs" fill="#1c1c1c" style="stroke-width:0.1px">th3/+</text>
<text transform="translate(192.00,299.40) rotate(-90)" x="0" y="0" font-size="9" textLength="83.76" lengthAdjust="spacingAndGlyphs" fill="#1c1c1c">-ΔCt (Gapdh - Bcl-xl)</text>
<text x="352.51" y="196.20" font-size="11.5" textLength="5.87" lengthAdjust="spacingAndGlyphs" fill="#1c1c1c" >F</text>
<line x1="383.90" y1="224.30" x2="383.90" y2="292.60" stroke="#111" stroke-width="1.4" />
<line x1="380.80" y1="226.95" x2="383.90" y2="226.95" stroke="#111" stroke-width="1.3" />
<text x="371.43" y="229.80" font-size="8.4" textLength="7.02" lengthAdjust="spacingAndGlyphs" fill="#1c1c1c" >-6</text>
<line x1="380.80" y1="243.65" x2="383.90" y2="243.65" stroke="#111" stroke-width="1.3" />
<text x="371.42" y="246.50" font-size="8.4" textLength="7.02" lengthAdjust="spacingAndGlyphs" fill="#1c1c1c" >-8</text>
<line x1="380.80" y1="259.95" x2="383.90" y2="259.95" stroke="#111" stroke-width="1.3" />
<text x="367.00" y="262.80" font-size="8.4" textLength="11.41" lengthAdjust="spacingAndGlyphs" fill="#1c1c1c" >-10</text>
<line x1="380.80" y1="276.35" x2="383.90" y2="276.35" stroke="#111" stroke-width="1.3" />
<text x="367.08" y="279.20" font-size="8.4" textLength="11.41" lengthAdjust="spacingAndGlyphs" fill="#1c1c1c" >-12</text>
<line x1="380.80" y1="292.15" x2="383.90" y2="292.15" stroke="#111" stroke-width="1.3" />
<text x="366.92" y="295.00" font-size="8.4" textLength="11.41" lengthAdjust="spacingAndGlyphs" fill="#1c1c1c" >-14</text>
<line x1="383.20" y1="292.20" x2="512.40" y2="292.20" stroke="#111" stroke-width="1.25" />
<line x1="400.20" y1="292.00" x2="400.20" y2="295.40" stroke="#111" stroke-width="1.1" />
<line x1="432.10" y1="292.00" x2="432.10" y2="295.40" stroke="#111" stroke-width="1.1" />
<line x1="464.80" y1="292.00" x2="464.80" y2="295.40" stroke="#111" stroke-width="1.1" />
<line x1="496.70" y1="292.00" x2="496.70" y2="295.40" stroke="#111" stroke-width="1.1" />
<line x1="447.90" y1="227.00" x2="447.90" y2="292.00" stroke="#444" stroke-width="1.7" stroke-dasharray="1 1.08"/>
<text x="408.15" y="211.70" font-size="9" textLength="23.01" lengthAdjust="spacingAndGlyphs" fill="#1c1c1c" >9 wks</text>
<text x="400.01" y="223.30" font-size="9" textLength="39.01" lengthAdjust="spacingAndGlyphs" fill="#1c1c1c" >post-BMT</text>
<text x="469.93" y="211.70" font-size="9" textLength="28.01" lengthAdjust="spacingAndGlyphs" fill="#1c1c1c" >22 wks</text>
<text x="464.31" y="223.10" font-size="9" textLength="39.01" lengthAdjust="spacingAndGlyphs" fill="#1c1c1c" >post-BMT</text>
<line x1="398.00" y1="237.60" x2="431.20" y2="237.60" stroke="#111" stroke-width="1.05" />
<circle cx="414.60" cy="234.00" r="1.1" fill="#2a2a2a"/>
<line x1="464.80" y1="262.30" x2="498.40" y2="262.30" stroke="#111" stroke-width="1.05" />
<circle cx="481.60" cy="258.70" r="1.1" fill="#2a2a2a"/>
<line x1="400.00" y1="246.80" x2="400.00" y2="248.80" stroke="#111" stroke-width="1.0" />
<line x1="394.30" y1="246.80" x2="405.70" y2="246.80" stroke="#111" stroke-width="1.0" />
<line x1="394.30" y1="248.80" x2="405.70" y2="248.80" stroke="#111" stroke-width="1.0" />
<circle cx="396.00" cy="245.50" r="1.45" fill="#c8001a" stroke="#111" stroke-width="0.85"/>
<circle cx="403.70" cy="244.30" r="1.45" fill="#c8001a" stroke="#111" stroke-width="0.85"/>
<circle cx="403.70" cy="249.00" r="1.45" fill="#c8001a" stroke="#111" stroke-width="0.85"/>
<circle cx="399.80" cy="247.80" r="1.45" fill="#c8001a" stroke="#111" stroke-width="0.85"/>
<circle cx="399.80" cy="252.40" r="1.45" fill="#c8001a" stroke="#111" stroke-width="0.85"/>
<circle cx="396.00" cy="248.60" r="1.45" fill="#c8001a" stroke="#111" stroke-width="0.85"/>
<line x1="389.40" y1="247.80" x2="410.60" y2="247.80" stroke="#000" stroke-width="1.5" />
<line x1="432.10" y1="255.90" x2="432.10" y2="263.00" stroke="#111" stroke-width="1.0" />
<line x1="426.40" y1="255.90" x2="437.80" y2="255.90" stroke="#111" stroke-width="1.0" />
<line x1="426.40" y1="263.00" x2="437.80" y2="263.00" stroke="#111" stroke-width="1.0" />
<circle cx="432.10" cy="248.20" r="1.35" fill="#1d4591" stroke="#1a2a55" stroke-width="0.4"/>
<circle cx="432.10" cy="258.20" r="1.35" fill="#1d4591" stroke="#1a2a55" stroke-width="0.4"/>
<circle cx="435.80" cy="257.60" r="1.35" fill="#1d4591" stroke="#1a2a55" stroke-width="0.4"/>
<circle cx="432.10" cy="265.10" r="1.35" fill="#1d4591" stroke="#1a2a55" stroke-width="0.4"/>
<circle cx="432.10" cy="268.90" r="1.35" fill="#1d4591" stroke="#1a2a55" stroke-width="0.4"/>
<line x1="421.50" y1="259.40" x2="442.70" y2="259.40" stroke="#000" stroke-width="1.5" />
<line x1="464.30" y1="273.20" x2="464.30" y2="275.00" stroke="#111" stroke-width="1.0" />
<line x1="458.60" y1="273.20" x2="470.00" y2="273.20" stroke="#111" stroke-width="1.0" />
<line x1="458.60" y1="275.00" x2="470.00" y2="275.00" stroke="#111" stroke-width="1.0" />
<circle cx="454.60" cy="274.10" r="1.45" fill="#c8001a" stroke="#111" stroke-width="0.85"/>
<circle cx="460.40" cy="272.20" r="1.45" fill="#c8001a" stroke="#111" stroke-width="0.85"/>
<circle cx="460.40" cy="275.80" r="1.45" fill="#c8001a" stroke="#111" stroke-width="0.85"/>
<circle cx="464.10" cy="273.00" r="1.45" fill="#c8001a" stroke="#111" stroke-width="0.85"/>
<circle cx="464.10" cy="277.90" r="1.45" fill="#c8001a" stroke="#111" stroke-width="0.85"/>
<circle cx="468.20" cy="270.10" r="1.45" fill="#c8001a" stroke="#111" stroke-width="0.85"/>
<circle cx="468.20" cy="276.40" r="1.45" fill="#c8001a" stroke="#111" stroke-width="0.85"/>
<circle cx="472.50" cy="274.50" r="1.45" fill="#c8001a" stroke="#111" stroke-width="0.85"/>
<line x1="453.70" y1="274.10" x2="474.90" y2="274.10" stroke="#000" stroke-width="1.5" />
<line x1="496.40" y1="277.20" x2="496.40" y2="281.00" stroke="#111" stroke-width="1.0" />
<line x1="490.70" y1="277.20" x2="502.10" y2="277.20" stroke="#111" stroke-width="1.0" />
<line x1="490.70" y1="281.00" x2="502.10" y2="281.00" stroke="#111" stroke-width="1.0" />
<circle cx="492.50" cy="273.30" r="1.35" fill="#1d4591" stroke="#1a2a55" stroke-width="0.4"/>
<circle cx="496.40" cy="275.60" r="1.35" fill="#1d4591" stroke="#1a2a55" stroke-width="0.4"/>
<circle cx="492.50" cy="282.20" r="1.35" fill="#1d4591" stroke="#1a2a55" stroke-width="0.4"/>
<circle cx="496.40" cy="283.70" r="1.35" fill="#1d4591" stroke="#1a2a55" stroke-width="0.4"/>
<circle cx="500.20" cy="282.50" r="1.35" fill="#1d4591" stroke="#1a2a55" stroke-width="0.4"/>
<line x1="485.80" y1="279.50" x2="507.00" y2="279.50" stroke="#000" stroke-width="1.5" />
<text x="363.72" y="305.80" font-size="8.6" textLength="13.87" lengthAdjust="spacingAndGlyphs" fill="#1c1c1c" >Tfr2</text>
<text x="395.51" y="305.80" font-size="8.6" textLength="9.05" lengthAdjust="spacingAndGlyphs" fill="#1c1c1c" >wt</text>
<text x="460.01" y="305.80" font-size="8.6" textLength="9.05" lengthAdjust="spacingAndGlyphs" fill="#1c1c1c" >wt</text>
<text x="420.99" y="305.80" font-size="8.6" textLength="21.97" lengthAdjust="spacingAndGlyphs" fill="#1c1c1c" >BMKO</text>
<text x="485.48" y="305.80" font-size="8.6" textLength="22.28" lengthAdjust="spacingAndGlyphs" fill="#1c1c1c" >BMKO</text>
<line x1="389.70" y1="311.00" x2="442.20" y2="311.00" stroke="#111" stroke-width="1.5" />
<line x1="454.20" y1="311.00" x2="506.20" y2="311.00" stroke="#111" stroke-width="1.5" />
<text x="401.32" y="324.50" font-size="8.0" textLength="15.12" lengthAdjust="spacingAndGlyphs" fill="#1c1c1c" >Hbb</text>
<text x="416.61" y="320.90" font-size="5.6" textLength="14.00" lengthAdjust="spacingAndGlyphs" fill="#1c1c1c" style="stroke-width:0.1px">th3/+</text>
<text x="465.52" y="324.50" font-size="8.0" textLength="15.12" lengthAdjust="spacingAndGlyphs" fill="#1c1c1c" >Hbb</text>
<text x="480.80" y="320.90" font-size="5.6" textLength="14.21" lengthAdjust="spacingAndGlyphs" fill="#1c1c1c" style="stroke-width:0.1px">th3/+</text>
<text transform="translate(359.40,296.69) rotate(-90)" x="0" y="0" font-size="9" textLength="77.34" lengthAdjust="spacingAndGlyphs" fill="#1c1c1c">-ΔCt (Gapdh - Fasl)</text>
<text x="225.60" y="16.60" font-size="10.5" textLength="66.23" lengthAdjust="spacingAndGlyphs" fill="#1c1c1c" >BONE MARROW</text>
<text x="249.43" y="181.50" font-size="10.5" textLength="31.82" lengthAdjust="spacingAndGlyphs" fill="#1c1c1c" >SPLEEN</text>
<rect x="0" y="0" width="1.5" height="334" fill="#111"/>
<rect x="0" y="0" width="520" height="1.4" fill="#1a1a1a"/>
<rect x="518.5" y="0" width="1.5" height="334" fill="#111"/>
<rect x="0" y="332.8" width="520" height="1.2" fill="#111"/>
</svg>
</body></html>
